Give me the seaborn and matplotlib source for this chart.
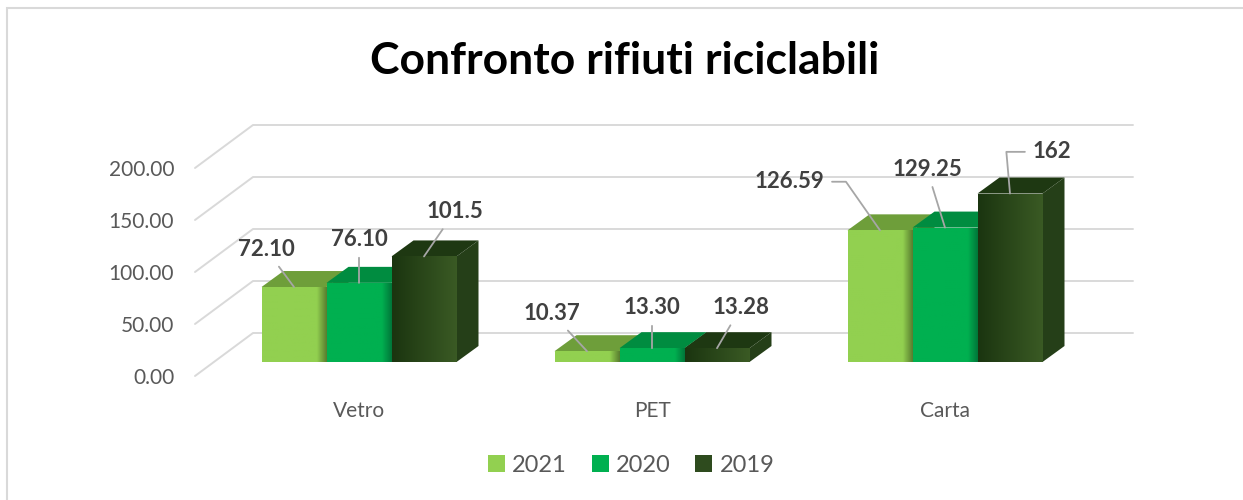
import numpy as np
import pandas as pd
import matplotlib
matplotlib.use("Agg")
import matplotlib.pyplot as plt
import seaborn as sns
from matplotlib.patches import Polygon, Rectangle
from matplotlib.colors import to_rgb

# data
categories = ["Vetro", "PET", "Carta"]
years = ["2021", "2020", "2019"]
values_2021 = [72.10, 10.37, 126.59]
values_2020 = [76.10, 13.30, 129.25]
values_2019 = [101.5, 13.28, 162]
y_ticks = [0, 50, 100, 150, 200]

# styling
front_colors = {"2021": "#92D050", "2020": "#00B050", "2019": "#2E4B1E"}
top_colors = {"2021": "#6E9E3A", "2020": "#008C40", "2019": "#1E3812"}
side_colors = {"2021": "#5E8A30", "2020": "#007A36", "2019": "#253F18"}
# horizontal gradient on bar fronts (left colour, right colour, where darkening starts)
grad = {
    "2021": ("#92D050", "#5A7F30", 0.85),
    "2020": ("#00B050", "#00783A", 0.85),
    "2019": ("#1B3510", "#3A5A24", 0.0),
}
label_fmt = {"2021": "{:.2f}", "2020": "{:.2f}", "2019": "{:g}"}
# label offset from bar top (points) and leader elbow
label_off = {
    ("2021", 0): (-20, 27), ("2020", 0): (0, 31), ("2019", 0): (22, 32),
    ("2021", 1): (-25, 27), ("2020", 1): (0, 29), ("2019", 1): (17, 29),
    ("2021", 2): (-65, 35), ("2020", 2): (-13, 42), ("2019", 2): (30, 30),
}
elbow = {("2021", 2): "left", ("2019", 2): "right"}

W, H, DPI = 1243, 500, 100
SCALE = 1.04          # px per unit
X0, XS = 359, 293     # px of category 0, px per category
BASE = 362            # px of bar baseline
DX, DY = 22 / XS, 16 / SCALE           # bar depth
FLOOR_Y = (BASE - 376) / SCALE         # front edge of floor
BACK_Y = (BASE - 333) / SCALE          # back wall zero
FLOOR_X, BACK_X, RIGHT_X = (195 - X0) / XS, (253 - X0) / XS, (1133 - X0) / XS

df = pd.DataFrame({
    "categoria": categories * 3,
    "anno": [y for y in years for _ in categories],
    "valore": values_2021 + values_2020 + values_2019,
})

sns.set_theme(style="white")
plt.rcParams["font.family"] = ["Lato", "DejaVu Sans"]

fig = plt.figure(figsize=(W / DPI, H / DPI), dpi=DPI)
ax_l, ax_r, ax_t, ax_b = 195, 1140, 110, 395
ax = fig.add_axes([ax_l / W, 1 - ax_b / H, (ax_r - ax_l) / W, (ax_b - ax_t) / H])
ax.patch.set_alpha(0)

sns.barplot(data=df, x="categoria", y="valore", hue="anno", hue_order=years,
            order=categories, palette=front_colors, width=195 / XS,
            saturation=1, linewidth=0, legend=False, ax=ax)

ax.set_xlim((ax_l - X0) / XS, (ax_r - X0) / XS)
ax.set_ylim((BASE - ax_b) / SCALE, (BASE - ax_t) / SCALE)

# grid: back wall + diagonals on the floor/left wall
for t in y_ticks:
    ax.plot([FLOOR_X, BACK_X, RIGHT_X], [t + FLOOR_Y, t + BACK_Y, t + BACK_Y],
            color="#D9D9D9", lw=1.4, zorder=0.5, clip_on=False)

label_vals = {"2021": values_2021, "2020": values_2020, "2019": values_2019}
for k, (yr, cont) in enumerate(zip(years, ax.containers)):
    z = 2 + k
    for i, bar in enumerate(cont.patches):
        x, w, h = bar.get_x(), bar.get_width(), bar.get_height()
        bar.set_zorder(z)
        top = Polygon([(x, h), (x + w, h), (x + w + DX, h + DY), (x + DX, h + DY)],
                      closed=True, fc=top_colors[yr], ec="none", zorder=z - 0.1)
        side = Polygon([(x + w, 0), (x + w, h), (x + w + DX, h + DY), (x + w + DX, DY)],
                       closed=True, fc=side_colors[yr], ec="none", zorder=z - 0.1)
        ax.add_patch(side)
        ax.add_patch(top)
        c0, c1, start = grad[yr]
        n = 64
        tt = np.clip((np.linspace(0, 1, n) - start) / (1 - start), 0, 1)
        rgb = np.array(to_rgb(c0))[None, :] * (1 - tt[:, None]) + np.array(to_rgb(c1))[None, :] * tt[:, None]
        im = ax.imshow(rgb[None, :, :], extent=[x, x + w, 0, h], aspect="auto",
                       zorder=z + 0.05, interpolation="bilinear")
        im.set_clip_path(bar)

        # data label with leader line
        lbl = label_fmt[yr].format(label_vals[yr][i])
        off = label_off[(yr, i)]
        cs = "arc3"
        if (yr, i) in elbow:
            cs = "angle,angleA=0,angleB=%d,rad=0" % (125 if elbow[(yr, i)] == "left" else 95)
        ax.annotate(lbl, xy=(x + w / 2, h), xytext=off, textcoords="offset points",
                    ha="center", va="center", fontsize=16, fontweight="bold",
                    color="#404040", zorder=10,
                    arrowprops=dict(arrowstyle="-", color="#A6A6A6", lw=1.3,
                                    shrinkA=3, shrinkB=0, connectionstyle=cs))

ax.set_yticks([t + FLOOR_Y for t in y_ticks], [f"{t:.2f}" for t in y_ticks])
ax.tick_params(axis="y", length=0, pad=15, labelsize=15, labelcolor="#595959")
ax.tick_params(axis="x", length=0, pad=4, labelsize=15, labelcolor="#595959")
ax.set_xlabel("")
ax.set_ylabel("")
sns.despine(ax=ax, left=True, bottom=True)

fig.text(625 / W, 1 - 61 / H, "Confronto rifiuti riciclabili", ha="center", va="center",
         fontsize=32, fontweight="bold", color="black")

handles = [Rectangle((0, 0), 1, 1, fc=front_colors[y], ec="none") for y in years]
fig.legend(handles, years, loc="center", bbox_to_anchor=(631 / W, 1 - 465 / H), ncol=3,
           frameon=False, fontsize=17, labelcolor="#595959", handlelength=0.72,
           handleheight=0.72, handletextpad=0.3, columnspacing=1.06)

fig.patches.append(Rectangle((6.5 / W, -0.1), 1.2, 1 - 7.5 / H + 0.1, transform=fig.transFigure,
                             fill=False, ec="#D9D9D9", lw=1.5))

fig.savefig("out.png", dpi=DPI)
